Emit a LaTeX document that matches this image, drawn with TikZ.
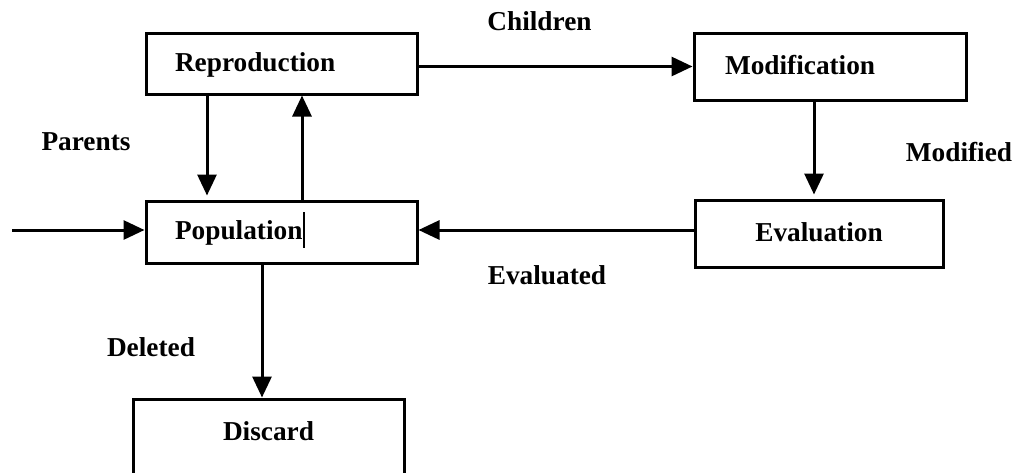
\documentclass[tikz,border=0pt]{standalone}
\usepackage{fontspec}
\setmainfont{Liberation Serif}
\usetikzlibrary{arrows.meta}
\newcommand{\lbl}{\fontsize{27.3}{32}\selectfont\bfseries}

\begin{document}
\begin{tikzpicture}[
  x=1pt, y=-1pt,
  box/.style={draw, line width=3pt, font=\lbl, text height=20pt, text depth=5pt, inner ysep=0pt, minimum width=271pt},
  leftbox/.style={box, align=left, text width=#1, inner xsep=29pt},
  arrow/.style={-{Triangle[length=21pt, width=19pt]}, line width=3pt},
  tag/.style={font=\lbl, inner sep=0pt}
]
\useasboundingbox (0,0) rectangle (1017,472);

\node[leftbox=213pt, minimum height=61pt] (repro) at (281.5,63.5) {Reproduction};
\node[leftbox=210pt, inner xsep=31pt, minimum width=272pt, minimum height=67pt] (mod) at (830,66.5) {Modification};
\node[leftbox=213pt, minimum height=62pt] (pop) at (281.5,232) {Population\kern1pt\rule[-8pt]{1.2pt}{36pt}};
\node[box, minimum width=248pt, minimum height=67pt] (eval) at (819,233.5) {Evaluation};
\node[box, text depth=28pt, minimum height=90pt] (discard) at (268.5,444) {Discard};

\node[tag] (children) at (539.5,21.5) {Children};
\node[tag] (parents) at (86,142) {Parents};
\node[tag] (modified) at (959,152) {Modified};
\node[tag] (evaluated) at (547,275.5) {Evaluated};
\node[tag] (deleted) at (151,347) {Deleted};

\coordinate (start) at (12,230);
\draw[arrow] (start) -- (start -| pop.west);
\draw[arrow, shorten >=4pt] ([xshift=-74.5pt]repro.south) -- ([xshift=-74.5pt]pop.north);
\draw[arrow] ([xshift=20.5pt]pop.north) -- ([xshift=20.5pt]repro.south);
\draw[arrow] (repro.east |- mod.west) -- (mod.west);
\draw[arrow, shorten >=4pt] ([xshift=-16pt]mod.south) -- ([xshift=-16pt]mod.south |- eval.north);
\draw[arrow] (eval.west |- start) -- (pop.east |- start);
\draw[arrow] ([xshift=-19.5pt]pop.south) -- ([xshift=-19.5pt]pop.south |- discard.north);

\end{tikzpicture}
\end{document}
